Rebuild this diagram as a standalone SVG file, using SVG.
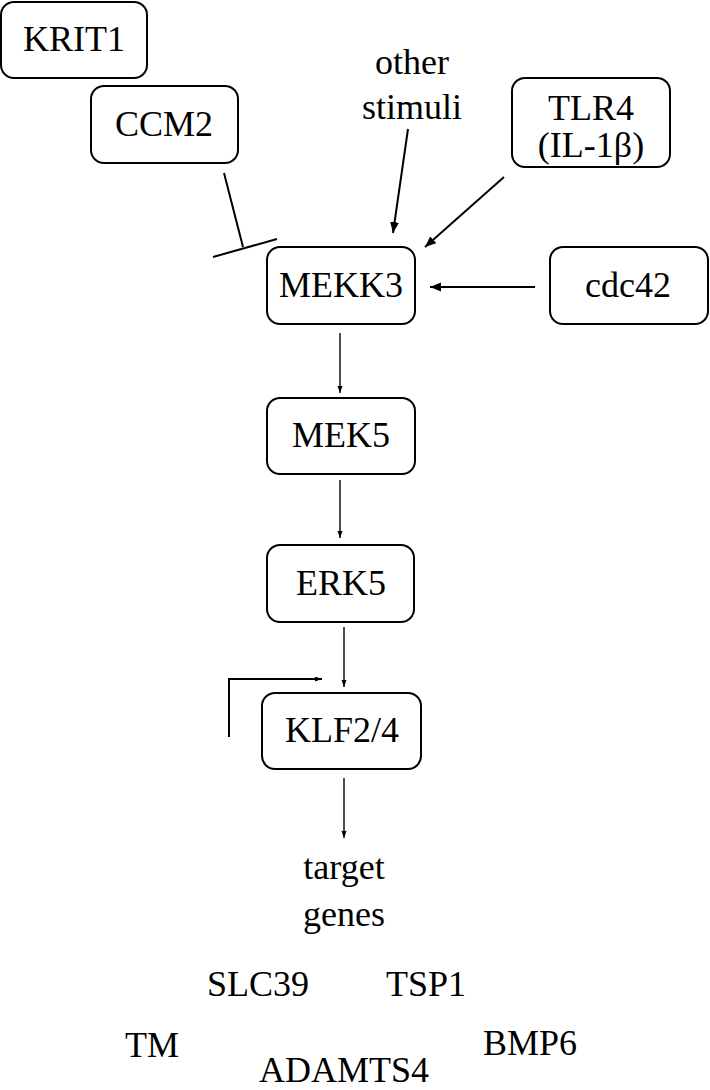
<svg xmlns="http://www.w3.org/2000/svg" width="710" height="1090" viewBox="0 0 710 1090">
<style>
.box{fill:#fff;stroke:#000;stroke-width:2}
.t{font-size:36px;fill:#000;text-anchor:middle}
.c{fill:none;stroke:#000;stroke-width:2}
.cs{fill:none;stroke:#000;stroke-width:1.4}
</style>
<defs>
<marker id="ah" markerUnits="userSpaceOnUse" markerWidth="12" markerHeight="10" refX="11" refY="4.5" orient="auto"><path d="M0,0 L11,4.5 L0,9 z" fill="#000"/></marker>
<marker id="as" markerUnits="userSpaceOnUse" markerWidth="8" markerHeight="6" refX="7" refY="2.5" orient="auto"><path d="M0,0 L7,2.5 L0,5 z" fill="#000"/></marker>
</defs>
<rect width="710" height="1090" fill="#fff"/>
<g id="connectors">
<line class="c" x1="224" y1="173" x2="243" y2="247"/>
<line class="c" x1="213" y1="257" x2="277" y2="239"/>
<line class="c" x1="408" y1="129" x2="393" y2="233" marker-end="url(#ah)"/>
<line class="c" x1="504" y1="177" x2="425" y2="247" marker-end="url(#ah)"/>
<line class="c" x1="535" y1="287" x2="430" y2="287" marker-end="url(#ah)"/>
<line class="cs" x1="340" y1="333" x2="340" y2="393" marker-end="url(#as)"/>
<line class="cs" x1="340" y1="480" x2="340" y2="538" marker-end="url(#as)"/>
<line class="cs" x1="344" y1="627" x2="344" y2="687" marker-end="url(#as)"/>
<path class="c" d="M229,737 V679 H322" marker-end="url(#as)"/>
<line class="cs" x1="344" y1="778" x2="344" y2="838" marker-end="url(#as)"/>
</g>
<g font-family="Liberation Serif, DejaVu Serif, serif">
<g id="KRIT1"><rect class="box" x="1" y="2" width="146" height="76" rx="13"/><text class="t" x="74" y="51">KRIT1</text></g>
<g id="CCM2"><rect class="box" x="91" y="86" width="147" height="77" rx="13"/><text class="t" x="164" y="136">CCM2</text></g>
<g id="other-stimuli"><text class="t" x="412" y="74">other</text><text class="t" x="412" y="119">stimuli</text></g>
<g id="TLR4"><rect class="box" x="512" y="78" width="158" height="89" rx="13"/><text class="t" x="591" y="120">TLR4</text><text class="t" x="591" y="157">(IL-1β)</text></g>
<g id="MEKK3"><rect class="box" x="267" y="247" width="148" height="77" rx="13"/><text class="t" x="341" y="297">MEKK3</text></g>
<g id="cdc42"><rect class="box" x="550" y="247" width="158" height="77" rx="13"/><text class="t" x="628" y="297">cdc42</text></g>
<g id="MEK5"><rect class="box" x="267" y="398" width="148" height="76" rx="13"/><text class="t" x="341" y="447">MEK5</text></g>
<g id="ERK5"><rect class="box" x="267" y="545" width="147" height="77" rx="13"/><text class="t" x="341" y="595">ERK5</text></g>
<g id="KLF2-4"><rect class="box" x="262" y="693" width="159" height="76" rx="13"/><text class="t" x="342" y="742">KLF2/4</text></g>
<g id="target-genes"><text class="t" x="344" y="879">target</text><text class="t" x="344" y="926">genes</text></g>
<g id="genes">
<text class="t" x="258" y="996">SLC39</text>
<text class="t" x="426" y="996">TSP1</text>
<text class="t" x="152" y="1057">TM</text>
<text class="t" x="530" y="1055">BMP6</text>
<text class="t" x="344" y="1082">ADAMTS4</text>
</g>
</g>
</svg>
